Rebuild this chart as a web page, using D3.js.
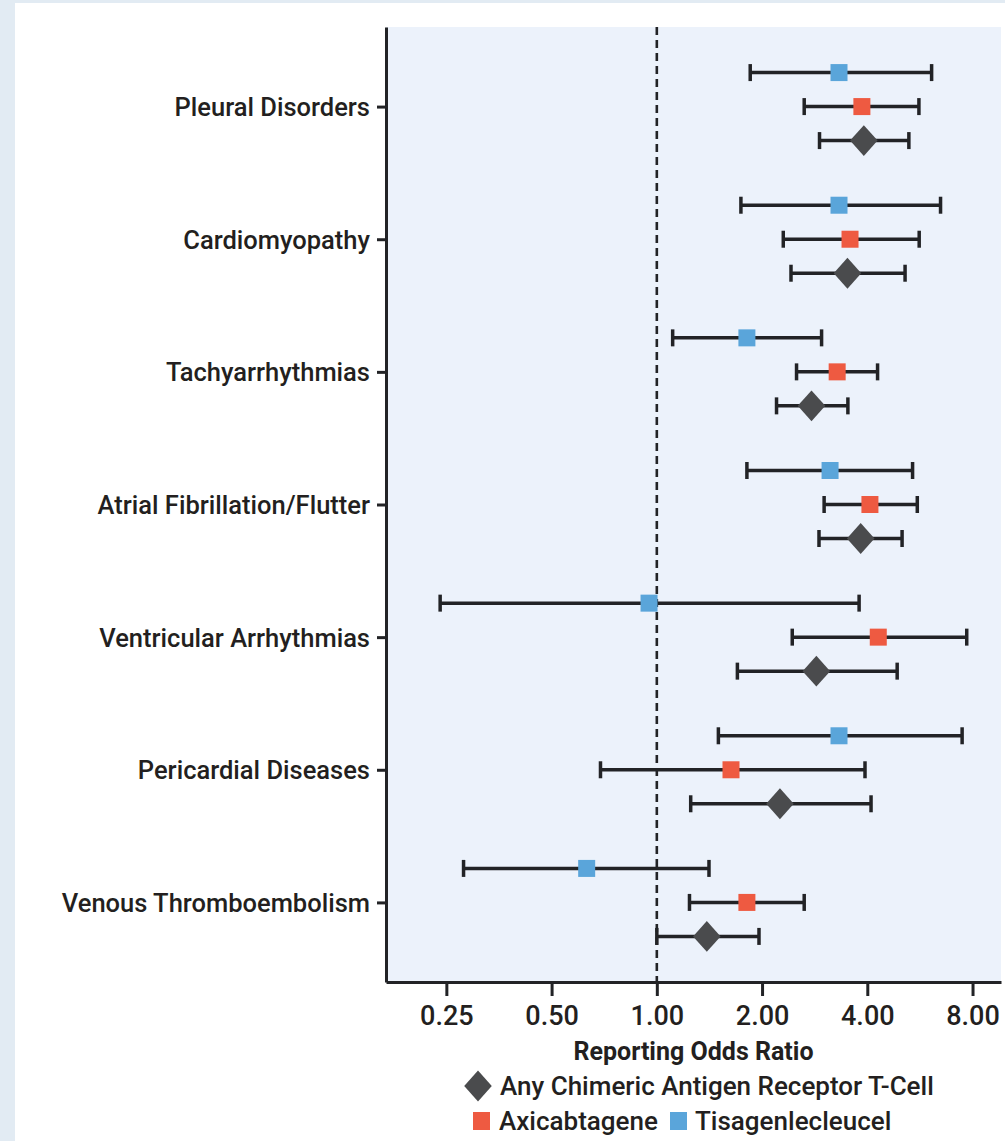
<!DOCTYPE html>
<html>
<head>
<meta charset="utf-8">
<script src="https://cdn.jsdelivr.net/npm/d3@7"></script>
<style>
  body { margin:0; background:#e2ebf3; }
  svg { display:block; }
  .lbl { font-family:"Roboto","Noto Sans",sans-serif; font-weight:500; fill:#231f20; }
  .title { font-weight:700; }
</style>
</head>
<body>
<svg id="chart"></svg>
<script>
const categories = [
  "Pleural Disorders",
  "Cardiomyopathy",
  "Tachyarrhythmias",
  "Atrial Fibrillation/Flutter",
  "Ventricular Arrhythmias",
  "Pericardial Diseases",
  "Venous Thromboembolism"
];

// [odds ratio, lower CI, upper CI] per category
const tisagenlecleucel = [
  [3.32, 1.85, 6.11],
  [3.32, 1.74, 6.48],
  [1.81, 1.11, 2.96],
  [3.13, 1.81, 5.39],
  [0.95, 0.24, 3.79],
  [3.32, 1.50, 7.47],
  [0.63, 0.28, 1.41]
];

const axicabtagene = [
  [3.86, 2.64, 5.62],
  [3.57, 2.30, 5.63],
  [3.28, 2.51, 4.28],
  [4.07, 3.01, 5.56],
  [4.30, 2.44, 7.70],
  [1.63, 0.69, 3.94],
  [1.81, 1.24, 2.64]
];

const anyCarT = [
  [3.91, 2.92, 5.26],
  [3.51, 2.42, 5.13],
  [2.77, 2.20, 3.52],
  [3.83, 2.91, 5.03],
  [2.86, 1.70, 4.87],
  [2.25, 1.25, 4.10],
  [1.39, 1.00, 1.96]
];

const xTicks = [0.25, 0.5, 1, 2, 4, 8];

const COLORS = {
  tisa:"#5aa5da",
  axi:"#ee5a41",
  any:"#4a4b4d",
  ink:"#222326"
};

const W = 1005;
const H = 1141;

const plot = {left:386, right:1001, top:27, bottom:982};

const svg = d3.select("#chart")
  .attr("width",W)
  .attr("height",H);

// white panel
svg.append("rect")
  .attr("x",15)
  .attr("y",3)
  .attr("width",W-15)
  .attr("height",H-3)
  .attr("fill","#ffffff");

svg.append("rect")
  .attr("x",plot.left)
  .attr("y",plot.top)
  .attr("width",plot.right-plot.left)
  .attr("height",plot.bottom-plot.top)
  .attr("fill","#ecf2fb");

const x = d3.scaleLog()
  .base(2)
  .domain([0.168, 9.65])
  .range([plot.left, plot.right]);

const y = d3.scalePoint()
  .domain(categories)
  .range([plot.top, plot.bottom])
  .padding(0.6);

const series = [
  {key:"tisa", data:tisagenlecleucel, shape:"square"},
  {key:"axi", data:axicabtagene, shape:"square"},
  {key:"any", data:anyCarT, shape:"diamond"}
];

const offset = d3.scalePoint()
  .domain(series.map(d=>d.key))
  .range([-34, 34]);

// reference line at OR = 1
svg.append("line")
  .attr("x1",x(1))
  .attr("x2",x(1))
  .attr("y1",plot.top)
  .attr("y2",plot.bottom)
  .attr("stroke",COLORS.ink)
  .attr("stroke-width",2.6)
  .attr("stroke-dasharray","8,5");

const rows = [];
series.forEach(s=>{
  s.data.forEach((v,i)=>{
    rows.push({
      key:s.key,
      shape:s.shape,
      cat:categories[i],
      or:v[0],
      lo:v[1],
      hi:v[2]
    });
  });
});

const cy = d=>y(d.cat)+offset(d.key);

const g = svg.append("g");

g.selectAll(".ci")
  .data(rows)
  .join("line")
  .attr("x1",d=>x(d.lo))
  .attr("x2",d=>x(d.hi))
  .attr("y1",cy)
  .attr("y2",cy)
  .attr("stroke",COLORS.ink)
  .attr("stroke-width",3.5);

["lo","hi"].forEach(end=>{
  g.selectAll(".cap-"+end)
    .data(rows)
    .join("line")
    .attr("x1",d=>x(d[end]))
    .attr("x2",d=>x(d[end]))
    .attr("y1",d=>cy(d)-8.5)
    .attr("y2",d=>cy(d)+8.5)
    .attr("stroke",COLORS.ink)
    .attr("stroke-width",3.5);
});

g.selectAll(".sq")
  .data(rows.filter(d=>d.shape==="square"))
  .join("rect")
  .attr("x",d=>x(d.or)-8.5)
  .attr("y",d=>cy(d)-8.5)
  .attr("width",17)
  .attr("height",17)
  .attr("fill",d=>COLORS[d.key]);

const diamond = d3.symbol().type(d3.symbolSquare).size(380);

g.selectAll(".dm")
  .data(rows.filter(d=>d.shape==="diamond"))
  .join("path")
  .attr("d",diamond)
  .attr("transform",d=>`translate(${x(d.or)},${cy(d)}) scale(1,1.12) rotate(45)`)
  .attr("fill",COLORS.any);

// axes
const yAxis = svg.append("g")
  .attr("transform",`translate(${plot.left},0)`)
  .call(d3.axisLeft(y).tickSize(9).tickSizeOuter(0).tickPadding(7));

const xAxis = svg.append("g")
  .attr("transform",`translate(0,${plot.bottom})`)
  .call(
    d3.axisBottom(x)
      .tickValues(xTicks)
      .tickFormat(d3.format(".2f"))
      .tickSize(14)
      .tickSizeOuter(0)
      .tickPadding(8)
  );

[yAxis, xAxis].forEach(a=>{
  a.select(".domain")
    .attr("stroke",COLORS.ink)
    .attr("stroke-width",3);
  a.selectAll(".tick line")
    .attr("stroke",COLORS.ink)
    .attr("stroke-width",3);
  a.selectAll(".tick text")
    .attr("class","lbl")
    .attr("font-size",25.5)
    .attr("fill","#231f20");
});

yAxis.selectAll(".tick text")
  .attr("dy","0.35em");

xAxis.selectAll(".tick text")
  .attr("font-size",27)
  .attr("dy","0.78em");

// axis title
svg.append("text")
  .attr("class","lbl title")
  .attr("x",(plot.left+plot.right)/2)
  .attr("y",1060)
  .attr("text-anchor","middle")
  .attr("font-size",25)
  .text("Reporting Odds Ratio");

// legend
const leg1 = svg.append("g").attr("transform","translate(478,1086)");
leg1.append("path")
  .attr("d",diamond)
  .attr("transform","scale(1,1.12) rotate(45)")
  .attr("fill",COLORS.any);
leg1.append("text")
  .attr("class","lbl")
  .attr("x",22)
  .attr("y",9)
  .attr("font-size",26)
  .text("Any Chimeric Antigen Receptor T-Cell");

const leg2 = svg.append("g").attr("transform","translate(473,1121)");
leg2.append("rect")
  .attr("x",0)
  .attr("y",-9)
  .attr("width",17)
  .attr("height",18)
  .attr("fill",COLORS.axi);
leg2.append("text")
  .attr("class","lbl")
  .attr("x",26)
  .attr("y",9)
  .attr("font-size",26)
  .text("Axicabtagene");
leg2.append("rect")
  .attr("x",197)
  .attr("y",-9)
  .attr("width",17)
  .attr("height",18)
  .attr("fill",COLORS.tisa);
leg2.append("text")
  .attr("class","lbl")
  .attr("x",222)
  .attr("y",9)
  .attr("font-size",26)
  .text("Tisagenlecleucel");
</script>
</body>
</html>
